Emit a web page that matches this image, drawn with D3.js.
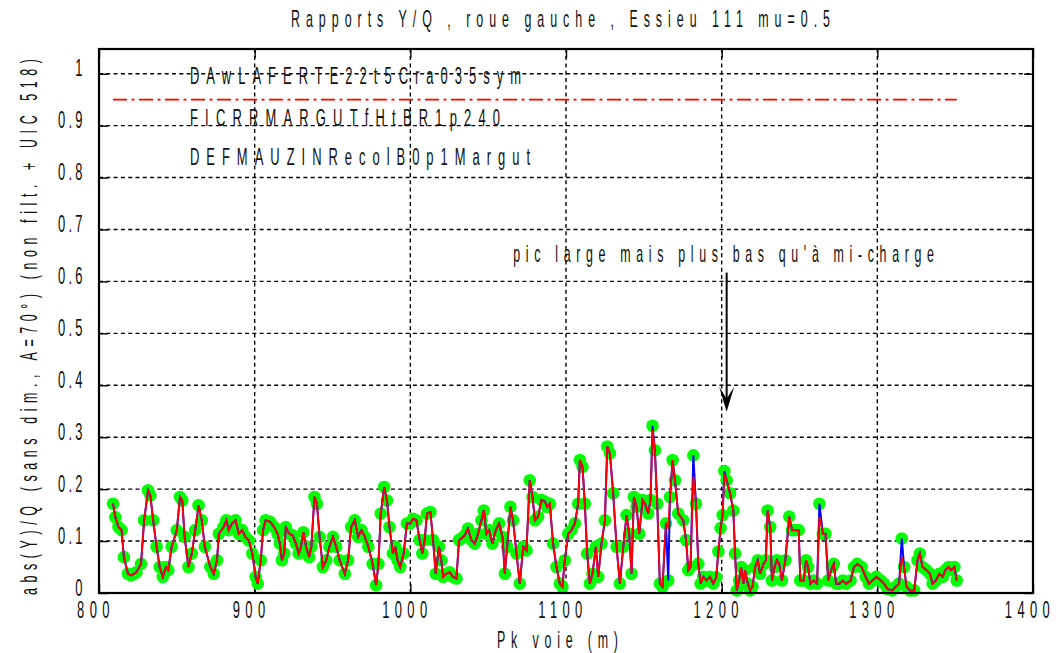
<!DOCTYPE html>
<html><head><meta charset="utf-8">
<script src="https://cdn.jsdelivr.net/npm/d3@7"></script>
<style>html,body{margin:0;background:#fff;}svg{display:block;}</style>
</head><body>
<svg id="fig" width="1056" height="653"></svg>
<script>
// Position along the track (m)
const pk = [
809,810.5,812.5,814.5,816,818.6,820.7,822.5,824,827,
829,831.5,833,834.8,837,839,841,843,844.5,846.7,
850,852,853.5,855,857.5,859.6,861.8,864,866,868,
871.5,873.7,875.8,877,880,881.8,883.3,885.5,887.7,889.8,
892,894,896.3,898.5,900.6,902,903.9,905.4,907,910,
912.5,914.7,916.2,917.5,919,920,922.2,924.4,926.5,928.3,
929.8,931.3,933,935,936.4,938.4,940,941.7,943.8,946,
948,950.3,952.4,954.6,957.9,960,962,964.3,966.5,968.6,
970.8,973,975.8,978,979.5,981,983.2,985,986.6,988.8,
990.3,991.8,993.5,995.7,997.8,1000,1001.7,1003.9,1006,1007.7,
1009.2,1010.7,1012.9,1014.6,1016.3,1018.4,1019.9,1021,1023,1025.3,
1027.4,1029.6,1031.3,1032.8,1034.9,1037,1039.2,1041.4,1043.5,1045.7,
1047.2,1048.9,1050.6,1052.7,1054.9,1057,1059.2,1060.7,1062.2,1064.3,
1066,1068.2,1070.3,1072.5,1074.6,1076.7,1078.5,1080,1082.1,1084.2,
1086.4,1087.9,1089.6,1091.7,1093.9,1096,1097.7,1099.2,1101.4,1103.5,
1105.7,1107.8,1108.9,1110.6,1112.1,1113.6,1115.3,1117,1119.2,1120.7,
1122.8,1125,1126.5,1128.2,1130.3,1132.5,1134.6,1136.8,1138.9,1140.6,
1142.1,1143.6,1145.3,1147,1149.2,1150.7,1152.8,1154.3,1155.6,1157.1,
1158.6,1160.3,1162,1164.2,1165.7,1166.8,1168.5,1170,1172.1,1175.3,
1177.1,1178.6,1180,1181.8,1183.5,1185,1186.5,1188.2,1190.4,1192.5,
1194.6,1196.5,1197.9,1199.3,1200.6,1201.7,1203.2,1205.4,1207.5,1208.6,
1209.7,1211.2,1212.5,1214,1215,1216.8,1218.3,1219.8,1221.5,1223.2,
1224.7,1226.9,1228.4,1229.5,1231.2,1232.3,1234,1235.5,1237,1238.7,
1240.9,1243.4,1245.2,1247.3,1249.5,1250.5,1252.7,1254.2,1255.5,1257,
1259.1,1261.3,1262.8,1265,1266.7,1268.4,1271,1272,1273.5,1275.7,
1277.8,1280,1282.8,1285,1287.1,1289.9,1292.5,1294.6,1296.8,1299.4,
1302.2,1304.3,1306.5,1309.7,1311.8,1314,1315.7,1317.2,1318.7,1320.9,
1323.7,1325.8,1327.3,1329,1331.6,1333.8,1335.5,1337.6,1339.8,1342,
1343.7,1345.8,1347.3,1349.5,1351
];

// |Y|/Q, red trace
const yqFiltre = [
0.172,0.146,0.127,0.121,0.069,0.037,0.034,0.037,0.040,0.056,
0.140,0.198,0.188,0.140,0.089,0.050,0.031,0.050,0.044,0.089,
0.121,0.185,0.178,0.108,0.050,0.076,0.121,0.169,0.140,0.089,
0.050,0.037,0.063,0.114,0.127,0.140,0.121,0.134,0.140,0.114,
0.121,0.108,0.101,0.076,0.031,0.018,0.063,0.121,0.140,0.137,
0.127,0.114,0.095,0.063,0.076,0.127,0.114,0.111,0.095,0.076,
0.089,0.117,0.089,0.069,0.089,0.185,0.172,0.108,0.050,0.063,
0.089,0.108,0.089,0.063,0.037,0.063,0.127,0.140,0.108,0.121,
0.108,0.089,0.056,0.015,0.056,0.153,0.204,0.178,0.127,0.076,
0.089,0.063,0.050,0.076,0.134,0.134,0.143,0.140,0.102,0.076,
0.102,0.153,0.156,0.102,0.037,0.089,0.063,0.031,0.037,0.040,
0.031,0.028,0.102,0.105,0.111,0.124,0.102,0.095,0.114,0.140,
0.159,0.114,0.121,0.095,0.121,0.134,0.108,0.037,0.089,0.166,
0.140,0.076,0.018,0.089,0.082,0.217,0.185,0.140,0.147,0.179,
0.176,0.166,0.172,0.095,0.050,0.018,0.012,0.063,0.114,0.121,
0.134,0.172,0.256,0.243,0.172,0.076,0.018,0.037,0.089,0.031,
0.095,0.140,0.282,0.269,0.192,0.089,0.018,0.089,0.150,0.114,
0.037,0.185,0.166,0.114,0.179,0.172,0.153,0.179,0.314,0.275,
0.172,0.018,0.012,0.134,0.127,0.185,0.256,0.217,0.153,0.140,
0.102,0.044,0.050,0.224,0.172,0.056,0.018,0.031,0.024,0.031,
0.018,0.030,0.080,0.125,0.150,0.230,0.217,0.192,0.159,0.076,
0.005,0.024,0.050,0.018,0.044,0.018,0.005,0.012,0.050,0.063,
0.037,0.056,0.063,0.159,0.127,0.024,0.050,0.063,0.056,0.024,
0.063,0.147,0.121,0.121,0.121,0.024,0.024,0.063,0.050,0.018,
0.024,0.018,0.147,0.114,0.114,0.024,0.050,0.056,0.018,0.018,
0.024,0.018,0.024,0.050,0.056,0.050,0.031,0.018,0.024,0.031,
0.024,0.018,0.008,0.005,0.012,0.018,0.069,0.050,0.012,0.005,
0.005,0.063,0.076,0.050,0.044,0.037,0.018,0.024,0.037,0.031,
0.044,0.050,0.044,0.050,0.024
];

// |Y|/Q, blue trace (also carries the green markers)
const yqBrut = [
0.172,0.146,0.127,0.121,0.069,0.037,0.034,0.037,0.040,0.056,
0.140,0.198,0.188,0.140,0.089,0.050,0.031,0.050,0.044,0.089,
0.121,0.185,0.178,0.108,0.050,0.076,0.121,0.169,0.140,0.089,
0.050,0.037,0.063,0.114,0.127,0.140,0.121,0.134,0.140,0.114,
0.121,0.108,0.101,0.076,0.031,0.018,0.063,0.121,0.140,0.137,
0.127,0.114,0.095,0.063,0.076,0.127,0.114,0.111,0.095,0.076,
0.089,0.117,0.089,0.069,0.089,0.185,0.172,0.108,0.050,0.063,
0.089,0.108,0.089,0.063,0.037,0.063,0.127,0.140,0.108,0.121,
0.108,0.089,0.056,0.015,0.056,0.153,0.204,0.178,0.127,0.076,
0.089,0.063,0.050,0.076,0.134,0.134,0.143,0.140,0.102,0.076,
0.102,0.153,0.156,0.102,0.037,0.089,0.063,0.031,0.037,0.040,
0.031,0.028,0.102,0.105,0.111,0.124,0.102,0.095,0.114,0.140,
0.159,0.114,0.121,0.095,0.121,0.134,0.108,0.037,0.089,0.166,
0.140,0.076,0.018,0.089,0.082,0.217,0.185,0.140,0.147,0.179,
0.176,0.166,0.172,0.095,0.050,0.018,0.012,0.063,0.114,0.121,
0.134,0.172,0.256,0.243,0.172,0.076,0.018,0.037,0.089,0.031,
0.095,0.140,0.282,0.269,0.192,0.089,0.018,0.089,0.150,0.114,
0.037,0.185,0.166,0.114,0.179,0.172,0.153,0.179,0.322,0.275,
0.172,0.018,0.012,0.134,0.024,0.185,0.256,0.217,0.153,0.140,
0.102,0.044,0.050,0.265,0.172,0.056,0.018,0.031,0.024,0.031,
0.018,0.030,0.080,0.125,0.150,0.235,0.217,0.192,0.159,0.076,
0.005,0.024,0.050,0.018,0.044,0.018,0.005,0.012,0.050,0.063,
0.037,0.056,0.063,0.159,0.127,0.024,0.050,0.063,0.056,0.024,
0.063,0.147,0.121,0.121,0.121,0.024,0.024,0.063,0.050,0.018,
0.024,0.018,0.172,0.114,0.114,0.024,0.050,0.056,0.018,0.018,
0.024,0.018,0.024,0.050,0.056,0.050,0.031,0.018,0.024,0.031,
0.024,0.018,0.008,0.005,0.012,0.018,0.105,0.050,0.012,0.005,
0.005,0.063,0.076,0.050,0.044,0.037,0.018,0.024,0.037,0.031,
0.044,0.050,0.044,0.050,0.024
];

const xTicks = [800, 900, 1000, 1100, 1200, 1300, 1400];
const yTicks = [0, 0.1, 0.2, 0.3, 0.4, 0.5, 0.6, 0.7, 0.8, 0.9, 1];
const yTickLabels = ["0", "0.1", "0.2", "0.3", "0.4", "0.5", "0.6", "0.7", "0.8", "0.9", "1"];
const seuil = 0.95;
const titre = "Rapports Y/Q , roue gauche , Essieu 111 mu=0.5";
const xLabel = "Pk voie (m)";
const yLabel = "abs(Y)/Q (sans dim., A=70°) (non filt. + UIC 518)";
const legendes = ["DAwLAFERTE22t5Cra035sym", "FICRRMARGUTfHtBR1p240", "DEFMAUZINRecolB0p1Margut"];
const annotation = "pic large mais plus bas qu'à mi-charge";
const flechePk = 1203.2, flecheHaut = 0.617, flecheBas = 0.349;

// ---- layout ----
const L = 99, R = 1033, T = 49, B = 593;
const x = d3.scaleLinear().domain([800, 1400]).range([L, R]);
const y = d3.scaleLinear().domain([0, 1]).range([B, 73.7]);

const svg = d3.select("#fig");
const FONT = '"Liberation Sans", Arial, sans-serif';
const SX = 0.54; // horizontal squeeze of the lettering

function narrowText(parent, str, o) {
  const g = parent.append("g")
    .attr("transform", `translate(${o.x},${o.y}) rotate(${o.rotate || 0}) scale(${SX},1)`);
  const t = g.append("text")
    .attr("font-family", FONT)
    .attr("font-size", o.size)
    .attr("fill", "#111")
    .attr("text-anchor", o.anchor || "start")
    .text(str);
  if (o.span) t.attr("textLength", o.span / SX).attr("lengthAdjust", "spacing");
  if (o.spacing) t.attr("letter-spacing", o.spacing);
  return t;
}

// grid
const grid = svg.append("g").attr("stroke", "#000").attr("stroke-width", 1.4)
  .attr("stroke-dasharray", "4,3.3");
grid.selectAll("line.v").data(xTicks.slice(1, -1)).join("line")
  .attr("x1", d => x(d)).attr("x2", d => x(d)).attr("y1", B).attr("y2", T);
grid.selectAll("line.h").data(yTicks.slice(1)).join("line")
  .attr("x1", L).attr("x2", R).attr("y1", d => y(d)).attr("y2", d => y(d));

// inward ticks on all four sides
const tk = 9;
svg.append("g").attr("transform", `translate(0,${B})`)
  .call(d3.axisBottom(x).tickValues(xTicks).tickSize(-tk).tickFormat(""));
svg.append("g").attr("transform", `translate(0,${T})`)
  .call(d3.axisTop(x).tickValues(xTicks).tickSize(-tk).tickFormat(""));
svg.append("g").attr("transform", `translate(${L},0)`)
  .call(d3.axisLeft(y).tickValues(yTicks).tickSize(-tk).tickFormat(""));
svg.append("g").attr("transform", `translate(${R},0)`)
  .call(d3.axisRight(y).tickValues(yTicks).tickSize(-tk).tickFormat(""));
svg.selectAll(".domain").remove();
svg.selectAll(".tick line").attr("stroke", "#000").attr("stroke-width", 1.4);

// threshold line
svg.append("line")
  .attr("x1", x(pk[0])).attr("x2", x(pk[pk.length - 1]))
  .attr("y1", y(seuil)).attr("y2", y(seuil))
  .attr("stroke", "#ff0000").attr("stroke-width", 1.8)
  .attr("stroke-dasharray", "14,4.5,3,4.5");

// legend labels
const legY = [84, 126, 165];
legendes.forEach((s, i) => {
  narrowText(svg, s, { x: 190, y: legY[i], size: 24, span: [331, 310, 340][i] });
});

// series
const idx = d3.range(pk.length);
const dots = svg.append("g").attr("fill", "#00ff00");
dots.selectAll("circle").data(idx).join("circle")
  .attr("cx", i => x(pk[i])).attr("cy", i => y(yqBrut[i])).attr("r", 6.3);

svg.append("path")
  .attr("d", d3.line().x(i => x(pk[i])).y(i => y(yqBrut[i]))(idx))
  .attr("fill", "none").attr("stroke", "#0000ff").attr("stroke-width", 2);
svg.append("path")
  .attr("d", d3.line().x(i => x(pk[i])).y(i => y(yqFiltre[i]))(idx))
  .attr("fill", "none").attr("stroke", "#ff0000").attr("stroke-width", 1.8);

// frame
svg.append("rect").attr("x", L).attr("y", T).attr("width", R - L).attr("height", B - T)
  .attr("fill", "none").attr("stroke", "#000").attr("stroke-width", 2.2);

// tick labels
xTicks.forEach(v => {
  narrowText(svg, String(v), { x: x(v) - 3, y: 618, size: 24, anchor: "middle", spacing: 10 });
});
yTicks.forEach((v, i) => {
  narrowText(svg, yTickLabels[i], { x: 82.5 + 6 * SX, y: y(v) + 2.5, size: 24, anchor: "end", spacing: 6 });
});

// titles
narrowText(svg, titre, { x: 291, y: 27, size: 23, span: 539 });
narrowText(svg, xLabel, { x: 497, y: 648, size: 23, span: 121 });
narrowText(svg, yLabel, { x: 37, y: 595, size: 23, span: 536, rotate: -90 });

// annotation and arrow
narrowText(svg, annotation, { x: 513.3, y: 261.5, size: 23, span: 420.7 });
const ax = x(flechePk), ay0 = y(flecheHaut), ay1 = y(flecheBas);
svg.append("line").attr("x1", ax).attr("x2", ax).attr("y1", ay0).attr("y2", ay1 - 6)
  .attr("stroke", "#000").attr("stroke-width", 2);
svg.append("path")
  .attr("d", `M${ax},${ay1} L${ax - 7.5},${ay1 - 25} L${ax},${ay1 - 13} L${ax + 7.5},${ay1 - 25} Z`)
  .attr("fill", "#000");
</script>
</body></html>
